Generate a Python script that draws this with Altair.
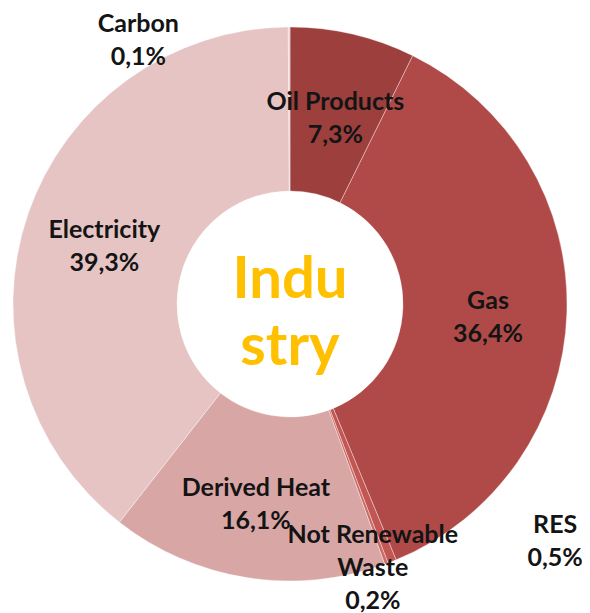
import altair as alt
import pandas as pd

categories = ["Oil Products", "Gas", "RES", "Not Renewable Waste", "Derived Heat", "Electricity", "Carbon"]
values = [7.3, 36.4, 0.5, 0.2, 16.1, 39.3, 0.1]
value_labels = ["7,3%", "36,4%", "0,5%", "0,2%", "16,1%", "39,3%", "0,1%"]
label_names = ["Oil Products", "Gas", "RES", "Not Renewable\nWaste", "Derived Heat", "Electricity", "Carbon"]
colors = ["#9C3F3D", "#B04A48", "#C25652", "#CC6A66", "#D9A6A6", "#E6C4C4", "#EBD0D0"]

# label placement (angle offset from slice middle in degrees, radius in px of first line)
label_offset_deg = [-0.5, -2.8, -28.6, 0.6, 1.5, 3.0, -28.3]
label_radius = [207, 198, 345, 245, 187, 200, 318]

total = sum(values)
cum = 0.0
mids = []
for v in values:
    mids.append((cum + v / 2) / total * 360)
    cum += v

df = pd.DataFrame({
    "category": categories,
    "value": values,
    "order": list(range(len(categories))),
})
lab = pd.DataFrame({
    "category": categories,
    "text": [n + "\n" + p for n, p in zip(label_names, value_labels)],
    "angle": [m + o for m, o in zip(mids, label_offset_deg)],
    "r": label_radius,
})
center = pd.DataFrame({"t": ["Indu\nstry"]})

CX, CY = 282, 296

arcs = alt.Chart(df).mark_arc(outerRadius=277, innerRadius=113, stroke="#ffffff",
                              strokeWidth=0.6, strokeOpacity=0.6).encode(
    theta=alt.Theta("value:Q", stack=True),
    order=alt.Order("order:Q"),
    color=alt.Color("category:N", scale=alt.Scale(domain=categories, range=colors), legend=None),
    x=alt.value(CX), y=alt.value(CY),
)

labels = alt.Chart(lab).mark_text(font="Lato", fontWeight="bold", fontSize=25,
                                  lineBreak="\n", lineHeight=33, color="#141414",
                                  align="center", baseline="middle").encode(
    theta=alt.Theta("angle:Q", scale=alt.Scale(domain=[0, 360], range=[0, 6.283185307])),
    radius=alt.Radius("r:Q", scale=alt.Scale(type="linear", domain=[0, 400], range=[0, 400], zero=True)),
    text="text:N",
    x=alt.value(CX), y=alt.value(CY),
)

ctext = alt.Chart(center).mark_text(font="Lato", fontWeight="bold", fontSize=58,
                                    lineBreak="\n", lineHeight=67, color="#FFC000",
                                    align="center", baseline="middle").encode(
    text="t:N",
    x=alt.value(CX), y=alt.value(CY - 23),
)

chart = alt.layer(arcs, labels, ctext).resolve_scale(theta="independent").properties(
    width=574, height=605, autosize=alt.AutoSizeParams(type="none"), padding=0,
).configure_view(stroke=None)

chart.save("out.html", embed_options={"renderer": "svg", "actions": False})
